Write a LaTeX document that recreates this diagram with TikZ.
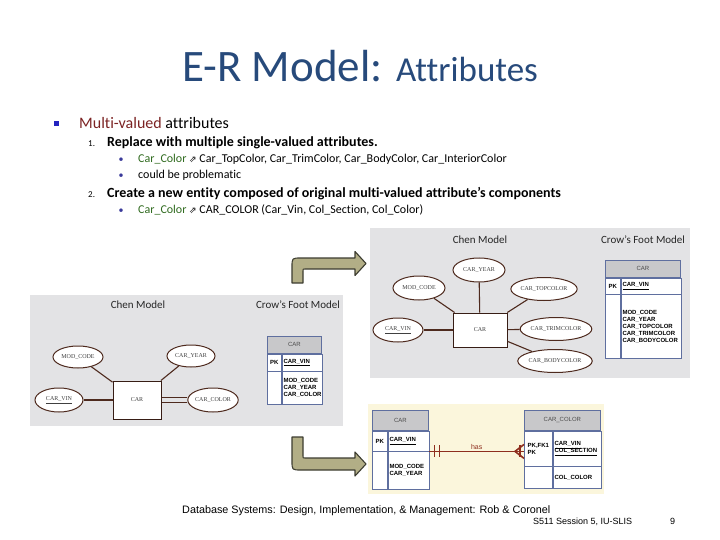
\documentclass[tikz,border=0pt]{standalone}
\usepackage{fontspec}
\setmainfont{Carlito}[Ligatures={TeX,NoCommon}]
\newfontfamily\diafont{Liberation Serif}
\newfontfamily\tblfont{Liberation Sans}
\newfontfamily\symfont{DejaVu Sans}
\usetikzlibrary{shapes.geometric,positioning,calc}

\definecolor{titleblue}{HTML}{274A7B}
\definecolor{mvred}{HTML}{7B2222}
\definecolor{colgreen}{HTML}{2F6A1E}
\definecolor{dotblue}{HTML}{3A3A9A}
\definecolor{sqblue}{HTML}{2424C0}
\definecolor{panelgray}{HTML}{E3E3E5}
\definecolor{panelcream}{HTML}{FBF6DC}
\definecolor{attrbrown}{HTML}{4E2A1E}
\definecolor{tblblue}{HTML}{5F6F9F}
\definecolor{hdrgray}{HTML}{C8C8CA}
\definecolor{relred}{HTML}{8E2E1E}
\definecolor{arrowkhaki}{HTML}{B2AE86}
\definecolor{arrowedge}{HTML}{3C3C30}

\tikzset{
  txt/.style={anchor=base west, inner sep=0},
  dot/.style={anchor=base, inner sep=0, text=dotblue, font=\fontsize{10}{12}\selectfont},
  attr/.style={ellipse, draw=attrbrown, fill=white, line width=1pt, inner sep=0,
    text=black!75, font=\diafont\fontsize{6}{7}\selectfont},
  entity/.style={rectangle, draw=attrbrown!70!black, fill=white, line width=1pt, inner sep=0,
    text=black!75, font=\diafont\fontsize{6}{7}\selectfont},
  link/.style={draw=attrbrown, line width=1.1pt},
  model/.style={inner sep=0, text=black!85, font=\fontsize{11}{12}\selectfont},
  hdr/.style={draw=tblblue, fill=hdrgray, line width=.7pt, anchor=north west, inner sep=0,
    text=black!70, font=\tblfont\fontsize{6}{7}\selectfont},
  keyc/.style={draw=tblblue, fill=white, line width=.7pt, anchor=north west, inner sep=1pt,
    align=left, font=\tblfont\bfseries\fontsize{6}{7}\selectfont},
  namec/.style={draw=tblblue, fill=white, line width=.7pt, anchor=north west, inner sep=1.5pt,
    align=left, font=\tblfont\bfseries\fontsize{6}{7}\selectfont},
  rel/.style={draw=relred, line width=1.6pt},
  bent/.style={fill=arrowkhaki, draw=arrowedge, line width=1.1pt, line join=round}
}

\begin{document}
\begin{tikzpicture}[x=1pt,y=-1pt]
  \useasboundingbox (0,0) rectangle (720,540);

  % title
  \node[anchor=base, inner sep=0, text=titleblue] (title) at (360,82)
    {{\fontsize{45}{50}\selectfont E-R Model: }{\fontsize{35}{40}\selectfont Attributes}};

  % bullet list
  \node[fill=sqblue, minimum size=5pt, inner sep=0] (sq) at (56,124) {};
  \node[txt, font=\fontsize{16}{18}\selectfont] (mv) at (79,129)
    {\textcolor{mvred}{Multi-valued} attributes};
  \node[txt, font=\fontsize{9}{11}\selectfont] (n1) at (88,147) {1.};
  \node[txt, font=\bfseries\fontsize{14}{16}\selectfont] (s1) at (107,147)
    {Replace with multiple single-valued attributes.};
  \node[dot] (d1) at (121,163) {\textbullet};
  \node[txt, font=\fontsize{12}{14}\selectfont] (b1) at (138,163)
    {\textcolor{colgreen}{Car\_Color} {\symfont\fontsize{9}{10}\selectfont ⇗} Car\_TopColor, Car\_TrimColor, Car\_BodyColor, Car\_InteriorColor};
  \node[dot] (d2) at (121,179) {\textbullet};
  \node[txt, font=\fontsize{12}{14}\selectfont] (b2) at (138,179) {could be problematic};
  \node[txt, font=\fontsize{9}{11}\selectfont] (n2) at (88,197) {2.};
  \node[txt, font=\bfseries\fontsize{14}{16}\selectfont] (s2) at (107,197)
    {Create a new entity composed of original multi-valued attribute’s components};
  \node[dot] (d3) at (121,214) {\textbullet};
  \node[txt, font=\fontsize{12}{14}\selectfont] (b3) at (138,214)
    {\textcolor{colgreen}{Car\_Color} {\symfont\fontsize{9}{10}\selectfont ⇗} CAR\_COLOR (Car\_Vin, Col\_Section, Col\_Color)};

  % first figure: one multi-valued attribute
  \fill[panelgray] (30,295) rectangle (343,426);
  \node[model] (chen1) at (138,305) {Chen Model};
  \node[model] (crow1) at (298,305) {Crow's Foot Model};
  \node[attr, minimum width=50pt, minimum height=22pt] (modcode1) at (78,357) {MOD\_CODE};
  \node[attr, minimum width=48pt, minimum height=22pt] (caryear1) at (191,356) {CAR\_YEAR};
  \node[attr, minimum width=48pt, minimum height=24pt] (carvin1) at (59,400) {\underline{CAR\_VIN}};
  \node[entity, minimum width=48pt, minimum height=38pt] (car1) at (137,400) {CAR};
  \node[attr, minimum width=47pt, minimum height=24pt] (carcolor1) at (213,400) {CAR\_COLOR};
  \begin{scope}[-]
    \draw[link] (modcode1) -- (car1);
    \draw[link] (caryear1) -- (car1);
    \draw[link] (carvin1) -- (car1);
    \draw[draw=attrbrown, line width=1.1pt, double=panelgray, double distance=4pt] (car1) -- (carcolor1);
  \end{scope}
  \node[hdr, minimum width=54pt, minimum height=17pt] (car1h) at (267,336) {CAR};
  \node[keyc, minimum width=14pt, minimum height=17pt] (car1k) at (car1h.south west) {PK};
  \node[namec, text width=37pt, minimum height=17pt] (car1pk) at (car1k.north east) {\underline{CAR\_VIN}};
  \node[keyc, minimum width=14pt, minimum height=33pt] (car1e) at (car1k.south west) {};
  \node[namec, text width=37pt, minimum height=33pt] (car1a) at (car1e.north east)
    {MOD\_CODE\\CAR\_YEAR\\CAR\_COLOR};

  % second figure: single-valued attributes
  \fill[panelgray] (370,228) rectangle (690,378);
  \node[model] (chen2) at (480,240) {Chen Model};
  \node[model] (crow2) at (643,240) {Crow's Foot Model};
  \node[attr, minimum width=52pt, minimum height=24pt] (caryear2) at (479,270) {CAR\_YEAR};
  \node[attr, minimum width=52pt, minimum height=24pt] (modcode2) at (419,288) {MOD\_CODE};
  \node[attr, minimum width=58pt, minimum height=23pt] (cartop2) at (544,289) {CAR\_TOPCOLOR};
  \node[attr, minimum width=50pt, minimum height=24pt] (carvin2) at (398,330) {\underline{CAR\_VIN}};
  \node[entity, minimum width=54pt, minimum height=34pt] (car2) at (480,330) {CAR};
  \node[attr, minimum width=62pt, minimum height=23pt] (cartrim2) at (556,329) {CAR\_TRIMCOLOR};
  \node[attr, minimum width=64pt, minimum height=23pt] (carbody2) at (555,361) {CAR\_BODYCOLOR};
  \begin{scope}[-]
    \draw[link] (caryear2) -- (car2);
    \draw[link] (modcode2) -- (car2);
    \draw[link] (cartop2) -- (car2);
    \draw[link] (carvin2) -- (car2);
    \draw[link] (cartrim2) -- (car2);
    \draw[link] (carbody2) -- (car2);
  \end{scope}
  \node[hdr, minimum width=75pt, minimum height=17pt] (car2h) at (605,260) {CAR};
  \node[keyc, minimum width=15pt, minimum height=16pt] (car2k) at (car2h.south west) {PK};
  \node[namec, text width=57pt, minimum height=16pt] (car2pk) at (car2k.north east) {\underline{CAR\_VIN}};
  \node[keyc, minimum width=15pt, minimum height=64pt] (car2e) at (car2k.south west) {};
  \node[namec, text width=57pt, minimum height=64pt] (car2a) at (car2e.north east)
    {MOD\_CODE\\CAR\_YEAR\\CAR\_TOPCOLOR\\CAR\_TRIMCOLOR\\CAR\_BODYCOLOR};

  % third figure: new entity
  \fill[panelcream] (368,404) rectangle (604,494);
  \node[hdr, minimum width=56pt, minimum height=20pt] (car3h) at (372,410) {CAR};
  \node[keyc, minimum width=15pt, minimum height=20pt] (car3k) at (car3h.south west) {PK};
  \node[namec, text width=38pt, minimum height=20pt] (car3pk) at (car3k.north east) {\underline{CAR\_VIN}};
  \node[keyc, minimum width=15pt, minimum height=38pt] (car3e) at (car3k.south west) {};
  \node[namec, text width=38pt, minimum height=38pt] (car3a) at (car3e.north east)
    {MOD\_CODE\\CAR\_YEAR};
  \node[hdr, minimum width=76pt, minimum height=20pt] (col3h) at (524,410) {CAR\_COLOR};
  \node[keyc, minimum width=28pt, minimum height=35pt] (col3k) at (col3h.south west) {PK,FK1\\PK};
  \node[namec, text width=45pt, minimum height=35pt] (col3pk) at (col3k.north east)
    {\underline{CAR\_VIN}\\\underline{COL\_SECTION}};
  \node[keyc, minimum width=28pt, minimum height=22pt] (col3e) at (col3k.south west) {};
  \node[namec, text width=45pt, minimum height=22pt] (col3a) at (col3e.north east) {COL\_COLOR};
  \coordinate (hasL) at (car3pk.south east);
  \coordinate (hasR) at (col3k.west |- car3pk.south east);
  \draw[rel] (hasL) -- (hasR)
    node[midway, above=0pt, inner sep=1pt, text=relred, font=\tblfont\fontsize{7}{8}\selectfont] (has) {has};
  \draw[rel] ($(hasL)+(5,-6)$) -- ++(0,12);
  \draw[rel] ($(hasL)+(10,-6)$) -- ++(0,12);
  \draw[rel] ($(hasR)+(-4,-6)$) -- ++(0,12);
  \draw[rel] ($(hasR)+(0,-7)$) -- ($(hasR)+(-9,0)$) -- ($(hasR)+(0,7)$);

  % bent arrows
  \draw[bent] (292,283) -- (292,267) .. controls (292,258) .. (301,258) -- (355,258)
    -- (355,251.5) -- (366,263.5) -- (355,275.5) -- (355,269) -- (305,269)
    .. controls (303,269) .. (303,271) -- (303,283) -- cycle;
  \draw[bent] (292,437) -- (292,461) .. controls (292,470) .. (301,470) -- (355,470)
    -- (355,476) -- (366,464) -- (355,452) -- (355,458) -- (305,458)
    .. controls (303,458) .. (303,456) -- (303,437) -- cycle;

  % footer
  \node[txt, font=\tblfont\fontsize{10.8}{12}\selectfont] (src) at (182,513)
    {Database Systems: Design, Implementation, \& Management: Rob \& Coronel};
  \node[txt, font=\tblfont\fontsize{9}{11}\selectfont] (sess) at (533,524) {S511 Session 5, IU-SLIS};
  \node[txt, font=\tblfont\fontsize{9}{11}\selectfont] (page) at (670,524) {9};
\end{tikzpicture}
\end{document}
